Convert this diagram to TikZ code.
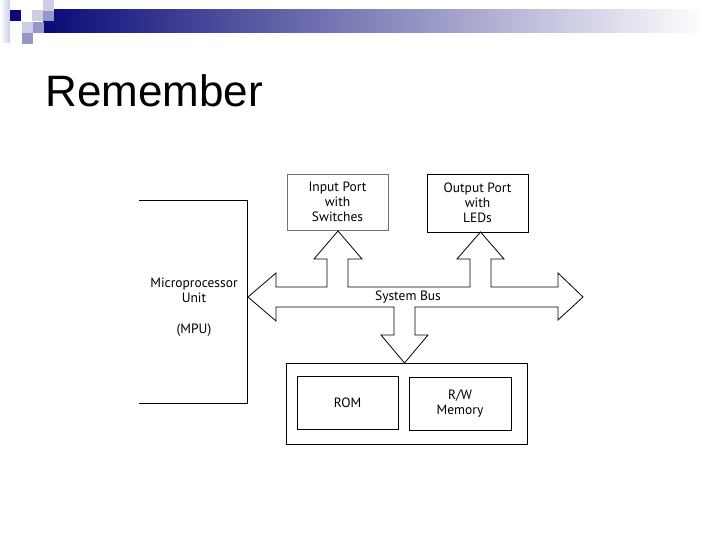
\documentclass[tikz,border=0pt]{standalone}
\usepackage{fontspec}
\setmainfont{Liberation Sans}
\newfontfamily\diagfont{PT Sans}
\usetikzlibrary{positioning,calc}
\definecolor{hdnavy}{RGB}{10,10,120}
\definecolor{hdmid}{RGB}{150,150,200}
\definecolor{hdlight}{RGB}{205,205,230}

\begin{document}
\begin{tikzpicture}[x=1pt, y=-1pt, line width=0.8pt,
  lbl/.style={font=\diagfont\fontsize{13.5}{15}\selectfont, align=center, inner sep=0pt},
  blk/.style={draw, lbl, minimum width=101pt, minimum height=56pt}]
\useasboundingbox (0,0) rectangle (720,540);
% header strip and squares
\shade[left color=white, right color=hdlight] (0,0) rectangle (10,43);
\shade[left color=hdnavy, right color=white] (43,10) rectangle (705,33);
\foreach \x/\y/\c in {10/10/hdnavy, 32/10/hdlight, 43/10/hdmid, 43/0/hdlight,
  22/22/hdlight, 33/22/hdmid, 22/33/hdmid}
  \fill[\c] (\x,\y) rectangle ++(11,11);
\node[anchor=base west, font=\fontsize{44}{50}\selectfont, inner sep=0pt] (title) at (45,107) {Remember};
% blocks
\node[minimum width=108pt, minimum height=202pt] (mpu) at (193,302) {};
\draw (mpu.north west) -| (mpu.south east) -- (mpu.south west);
\node[lbl] (mputxt) at (194,307) {Microprocessor\\Unit\\[16pt](MPU)};
\node[blk, draw=black!55] (inport) at (337.5,202) {Input Port\\with\\Switches};
\node[blk, minimum height=58pt] (outport) at (477.5,203) {Output Port\\with\\LEDs};
\node[draw, minimum width=241pt, minimum height=81pt] (mem) at (406.5,403.5) {};
\node[blk, minimum height=53pt] (rom) at (347.5,402.5) {ROM};
\node[blk, minimum height=53pt, minimum width=102pt] (rw) at (460,403.5) {R/W\\Memory};
% system bus outline
\draw[line join=miter] (248,297) -- (276,273) -- (276,287) -- (327,287) -- (327,259) -- (314,259)
  -- (338,231) -- (362,259) -- (348,259) -- (348,287) -- (470,287) -- (470,259) -- (457,259)
  -- (480.5,232) -- (504,259) -- (491,259) -- (491,287) -- (558,287) -- (558,273) -- (583,297)
  -- (558,320) -- (558,307) -- (415,307) -- (415,335) -- (428,335) -- (404.5,363) -- (381,335)
  -- (394,335) -- (394,307) -- (276,307) -- (276,321) -- cycle;
\node[lbl] (bus) at (408,297) {System Bus};
\end{tikzpicture}
\end{document}
